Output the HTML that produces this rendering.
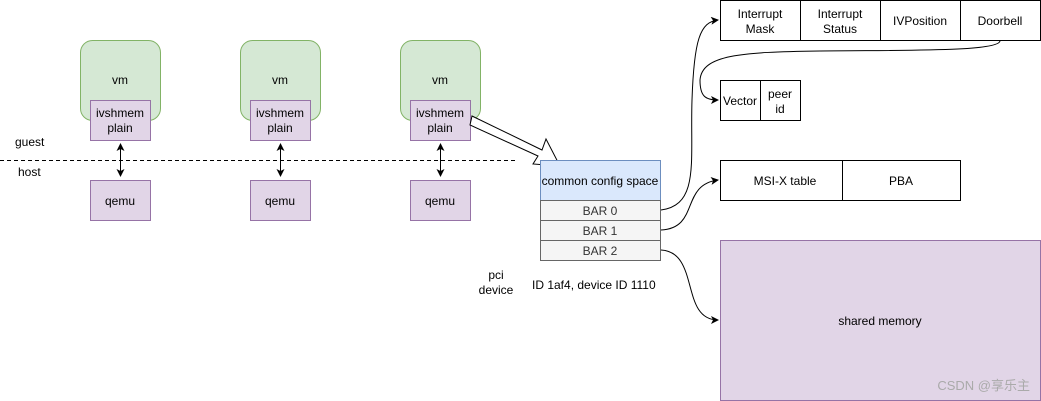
<!DOCTYPE html>
<html><head><meta charset="utf-8"><style>
html,body{margin:0;padding:0;background:#fff;width:1041px;height:401px;overflow:hidden}
svg text{font-family:"Liberation Sans","Noto Sans CJK SC",sans-serif;font-size:12px;fill:#000}
</style></head><body>
<svg width="1041" height="401" viewBox="0 0 1041 401" xmlns="http://www.w3.org/2000/svg">
<defs><marker id="a" markerWidth="8" markerHeight="8" refX="7" refY="4" orient="auto" markerUnits="userSpaceOnUse"><path d="M0,0 L8,4 L0,8 L2,4 z" fill="#000"/></marker>
<marker id="b" markerWidth="8" markerHeight="8" refX="1" refY="4" orient="auto" markerUnits="userSpaceOnUse"><path d="M8,0 L0,4 L8,8 L6,4 z" fill="#000"/></marker></defs>
<line x1="0" y1="160.5" x2="516" y2="160.5" stroke="#000" stroke-dasharray="4,3"/>
<text x="15" y="146">guest</text><text x="18" y="176">host</text>
<g id="c">
<rect x="80.5" y="40.5" width="80" height="80" rx="12" fill="#d5e8d4" stroke="#82b366"/>
<text x="120" y="84" text-anchor="middle">vm</text>
<rect x="90.5" y="100.5" width="60" height="40" fill="#e1d5e7" stroke="#9673a6"/>
<text x="120" y="117" text-anchor="middle">ivshmem</text><text x="120" y="132" text-anchor="middle">plain</text>
<rect x="90.5" y="180.5" width="60" height="40" fill="#e1d5e7" stroke="#9673a6"/>
<text x="120" y="205" text-anchor="middle">qemu</text>
<line x1="120.5" y1="144" x2="120.5" y2="176" stroke="#000" marker-start="url(#b)" marker-end="url(#a)"/>
</g>
<use href="#c" x="160"/><use href="#c" x="320"/>
<polygon points="472,116 542,150 546,139 560,166 533,164 538,156 470,125" fill="#fff" stroke="#000"/>
<rect x="540.5" y="160.5" width="120" height="40" fill="#dae8fc" stroke="#6c8ebf"/>
<text x="600" y="185" text-anchor="middle">common config space</text>
<rect x="540.5" y="200.5" width="120" height="20" fill="#f5f5f5" stroke="#666"/>
<rect x="540.5" y="220.5" width="120" height="20" fill="#f5f5f5" stroke="#666"/>
<rect x="540.5" y="240.5" width="120" height="20" fill="#f5f5f5" stroke="#666"/>
<text x="600" y="215" text-anchor="middle" style="fill:#333">BAR 0</text>
<text x="600" y="235" text-anchor="middle" style="fill:#333">BAR 1</text>
<text x="600" y="255" text-anchor="middle" style="fill:#333">BAR 2</text>
<text x="496" y="279" text-anchor="middle">pci</text><text x="496" y="294" text-anchor="middle">device</text>
<text x="532" y="289">ID 1af4, device ID 1110</text>
<g fill="#fff" stroke="#000">
<rect x="720.5" y="0.5" width="80" height="40"/><rect x="800.5" y="0.5" width="80" height="40"/>
<rect x="880.5" y="0.5" width="80" height="40"/><rect x="960.5" y="0.5" width="80" height="40"/>
<rect x="720.5" y="80.5" width="40" height="40"/><rect x="760.5" y="80.5" width="40" height="40"/>
<rect x="720.5" y="160.5" width="122" height="40"/><rect x="842.5" y="160.5" width="118" height="40"/>
</g>
<text x="760" y="18" text-anchor="middle">Interrupt</text><text x="760" y="33" text-anchor="middle">Mask</text>
<text x="840" y="18" text-anchor="middle">Interrupt</text><text x="840" y="33" text-anchor="middle">Status</text>
<text x="920" y="25" text-anchor="middle">IVPosition</text>
<text x="1000" y="25" text-anchor="middle">Doorbell</text>
<text x="740" y="105" text-anchor="middle">Vector</text>
<text x="780" y="98" text-anchor="middle">peer</text><text x="780" y="113" text-anchor="middle">id</text>
<text x="785" y="185" text-anchor="middle">MSI-X table</text><text x="901" y="185" text-anchor="middle">PBA</text>
<rect x="720.5" y="240.5" width="320" height="160" fill="#e1d5e7" stroke="#9673a6"/>
<text x="880" y="325" text-anchor="middle">shared memory</text>
<text x="1030" y="390" text-anchor="end" style="fill:#aaa;font-size:13px">CSDN @享乐主</text>
<g fill="none" stroke="#000">
<path d="M661,210 C700,205 690,160 692,100 C694,40 700,22 718,20" marker-end="url(#a)"/>
<path d="M661,230 C700,228 680,185 718,180" marker-end="url(#a)"/>
<path d="M661,250 C700,252 680,320 718,320" marker-end="url(#a)"/>
<path d="M1000,41 C998,52 900,50 820,51 C740,52 702,55 700,80 C700,96 705,100 718,100" marker-end="url(#a)"/>
</g>
</svg>
</body></html>
